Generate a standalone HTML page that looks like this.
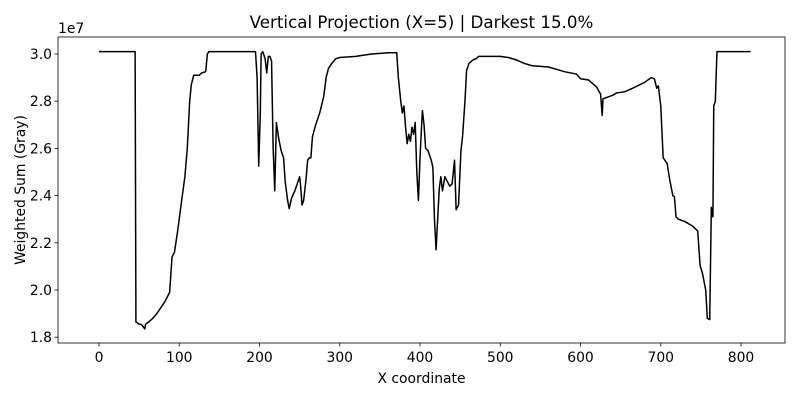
<!DOCTYPE html>
<html><head><meta charset="utf-8"><style>
body{margin:0;background:#fff;font-family:"Liberation Sans","DejaVu Sans",sans-serif}
svg text{font-family:"DejaVu Sans","Liberation Sans",sans-serif;fill:#000}
</style></head><body>
<svg id="chart" width="800" height="400"></svg>
<script>
const xValues=[0,45,46,48,50,52,54,55,57,58,62,67,72,77,82,88,91,94,98,103,107,110,113,115,118,125,128,133,135,137,195,197,199,201,202,204,207,209,211,213,215,217,219,221,224,227,230,232,235,237,240,244,246,250,251,253,255,258,260,262,264,266,270,275,280,283,286,290,295,300,320,330,340,360,371,373,376,378,380,382,384,386,388,390,392,394,396,398,400,402,403,405,407,410,414,416,418,420,422,424,426,428,431,434,437,440,443,445,448,451,453,456,458,461,466,470,473,500,510,520,530,535,540,560,570,580,595,600,610,620,625,627,628,640,645,655,665,680,688,692,695,697,700,703,706,708,711,715,717,719,722,730,740,746,749,752,756,758,761,763,765,766,768,770,812];
const yValues=[3.01,3.01,1.865,1.86,1.855,1.855,1.85,1.845,1.835,1.855,1.865,1.88,1.9,1.925,1.95,1.99,2.14,2.16,2.25,2.38,2.48,2.6,2.8,2.87,2.91,2.91,2.92,2.925,3.0,3.01,3.01,2.9,2.525,2.75,3.0,3.01,2.98,2.92,2.99,2.99,2.97,2.6,2.42,2.71,2.64,2.59,2.56,2.46,2.38,2.345,2.39,2.42,2.44,2.48,2.45,2.36,2.38,2.47,2.55,2.56,2.56,2.65,2.7,2.75,2.82,2.9,2.94,2.96,2.98,2.985,2.99,2.995,3.0,3.005,3.005,2.9,2.8,2.75,2.78,2.69,2.62,2.66,2.63,2.69,2.66,2.71,2.5,2.38,2.56,2.7,2.76,2.7,2.6,2.59,2.55,2.52,2.3,2.17,2.3,2.43,2.48,2.42,2.48,2.46,2.44,2.45,2.55,2.34,2.36,2.59,2.65,2.8,2.93,2.96,2.975,2.98,2.99,2.99,2.985,2.975,2.96,2.955,2.95,2.945,2.935,2.925,2.915,2.895,2.89,2.86,2.83,2.74,2.81,2.825,2.835,2.84,2.855,2.88,2.9,2.895,2.855,2.865,2.78,2.56,2.545,2.535,2.47,2.4,2.395,2.31,2.3,2.29,2.27,2.25,2.105,2.07,2.0,1.88,1.875,2.35,2.31,2.78,2.8,3.01,3.01];
const xTicks=[0,100,200,300,400,500,600,700,800];
const yTicks=[1.8,2.0,2.2,2.4,2.6,2.8,3.0];
const NS="http://www.w3.org/2000/svg";
const L=58,R=785,T=37,B=343;
const xMin=-51.1,xMax=854.8,yMin=1.7755,yMax=3.072;
const sx=v=>L+(v-xMin)/(xMax-xMin)*(R-L);
const sy=v=>B-(v-yMin)/(yMax-yMin)*(B-T);
const svg=document.getElementById('chart');
function mk(tag,attrs,txt){const e=document.createElementNS(NS,tag);for(const k in attrs)e.setAttribute(k,attrs[k]);if(txt!==undefined)e.textContent=txt;svg.appendChild(e);return e;}
let d=xValues.map((x,i)=>(i?'L':'M')+sx(x).toFixed(2)+','+sy(yValues[i]).toFixed(2)).join(' ');
const line=mk('path',{d:d,fill:'none',stroke:'#000','stroke-width':1.5,'stroke-linejoin':'round'});


const frame=mk('rect',{x:L,y:T,width:R-L,height:B-T,fill:'none',stroke:'#000','stroke-width':0.8});


xTicks.forEach(t=>{const x=sx(t);mk('line',{x1:x,x2:x,y1:B,y2:B+3.5,stroke:'#000','stroke-width':0.8});
const lb=mk('text',{x:x,y:B+19,'text-anchor':'middle','font-size':'13.9px'},String(t));

});
yTicks.forEach(t=>{const y=sy(t);mk('line',{x1:L-3.5,x2:L,y1:y,y2:y,stroke:'#000','stroke-width':0.8});
const lb=mk('text',{x:L-6,y:y+5,'text-anchor':'end','font-size':'13.9px'},t.toFixed(1));

});
const off=mk('text',{x:L,y:T-4,'font-size':'13.9px'},'1e7');


const ti=mk('text',{x:(L+R)/2,y:T-9,'text-anchor':'middle','font-size':'16.7px'},'Vertical Projection (X=5) | Darkest 15.0%');


const xt=mk('text',{x:(L+R)/2,y:383,'text-anchor':'middle','font-size':'13.9px'},'X coordinate');


const yt=mk('text',{x:0,y:0,'text-anchor':'middle','font-size':'13.9px',transform:'translate(25,'+((T+B)/2)+') rotate(-90)'},'Weighted Sum (Gray)');


</script>
</body></html>
